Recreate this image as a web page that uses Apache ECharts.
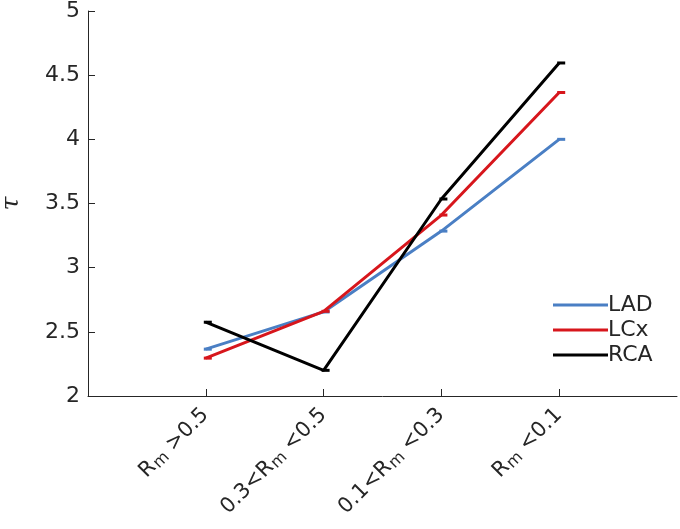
<!DOCTYPE html>
<html>
<head>
<meta charset="utf-8">
<script src="https://cdn.jsdelivr.net/npm/echarts@6/dist/echarts.min.js"></script>
<style>html,body{margin:0;padding:0;background:#fff}#c{width:680px;height:529px}</style>
</head>
<body>
<div id="c"></div>
<script>
const labelPrefix = ['', '0.3<', '0.1<', ''];
const labelSuffix = ['>0.5', '<0.5', '<0.3', '<0.1'];
const seriesNames = ['LAD', 'LCx', 'RCA'];
const LAD = [2.365, 2.655, 3.285, 4.0];
const LCx = [2.295, 2.66, 3.41, 4.365];
const RCA = [2.575, 2.2, 3.535, 4.595];
const yTicks = [2, 2.5, 3, 3.5, 4, 4.5, 5];

const colors = ['#4a7fc4', '#d7161c', '#000000'];
const cats = [''].concat(labelSuffix.map((s, i) => 'c' + i)).concat(['']);
const pad = v => [null].concat(v).concat([null]);

const chart = echarts.init(document.getElementById('c'));
const txt = '#262626';
chart.setOption({
  animation: false,
  grid: {left: 88, right: 3, top: 11, bottom: 133, outerBoundsMode: 'none', containLabel: false},
  legend: {
    data: seriesNames,
    orient: 'vertical',
    left: 548, top: 289,
    itemWidth: 55, itemHeight: 3, itemGap: 3,
    icon: 'rect',
    textStyle: {fontFamily: 'DejaVu Sans', fontSize: 22, color: txt, padding: [0,0,0,-5]}
  },
  xAxis: {
    type: 'category',
    data: cats,
    boundaryGap: false,
    axisLine: {lineStyle: {color: txt, width: 1}},
    axisTick: {inside: true, length: 7, alignWithLabel: true, interval: (i) => i > 0 && i < 5, lineStyle: {color: txt}},
    axisLabel: {
      rotate: 45, margin: 16, interval: 0, color: txt,
      formatter: (v) => {
        if (!v) return '';
        const i = +v.slice(1);
        return '{a|' + labelPrefix[i] + 'R}{s|m}{a| ' + labelSuffix[i] + '}';
      },
      rich: {
        a: {fontFamily: 'DejaVu Sans', fontSize: 21, color: txt, verticalAlign: 'top', lineHeight: 22},
        s: {fontFamily: 'DejaVu Sans', fontSize: 16, color: txt, verticalAlign: 'bottom', lineHeight: 17, padding: [13,0,0,1]}
      }
    },
    splitLine: {show: false}
  },
  yAxis: {
    type: 'value', min: yTicks[0], max: yTicks[yTicks.length - 1], interval: 0.5,
    name: 'τ', nameLocation: 'middle', nameRotate: 90, nameGap: 64,
    nameTextStyle: {fontFamily: 'DejaVu Serif', fontStyle: 'italic', fontSize: 25, color: txt},
    axisLine: {show: true, lineStyle: {color: txt, width: 1}},
    axisTick: {show: true, inside: true, length: 7, lineStyle: {color: txt}},
    axisLabel: {fontFamily: 'DejaVu Sans', fontSize: 22, color: txt, margin: 8},
    splitLine: {show: false}
  },
  series: [LAD, LCx, RCA].map((d, k) => ({
    name: seriesNames[k],
    type: 'line',
    data: pad(d),
    color: colors[k],
    lineStyle: {width: 3, color: colors[k]},
    symbol: 'rect', symbolSize: [8, 3], symbolOffset: [2, 0],
    itemStyle: {color: colors[k]},
    z: 2 + k
  }))
});
</script>
</body>
</html>
